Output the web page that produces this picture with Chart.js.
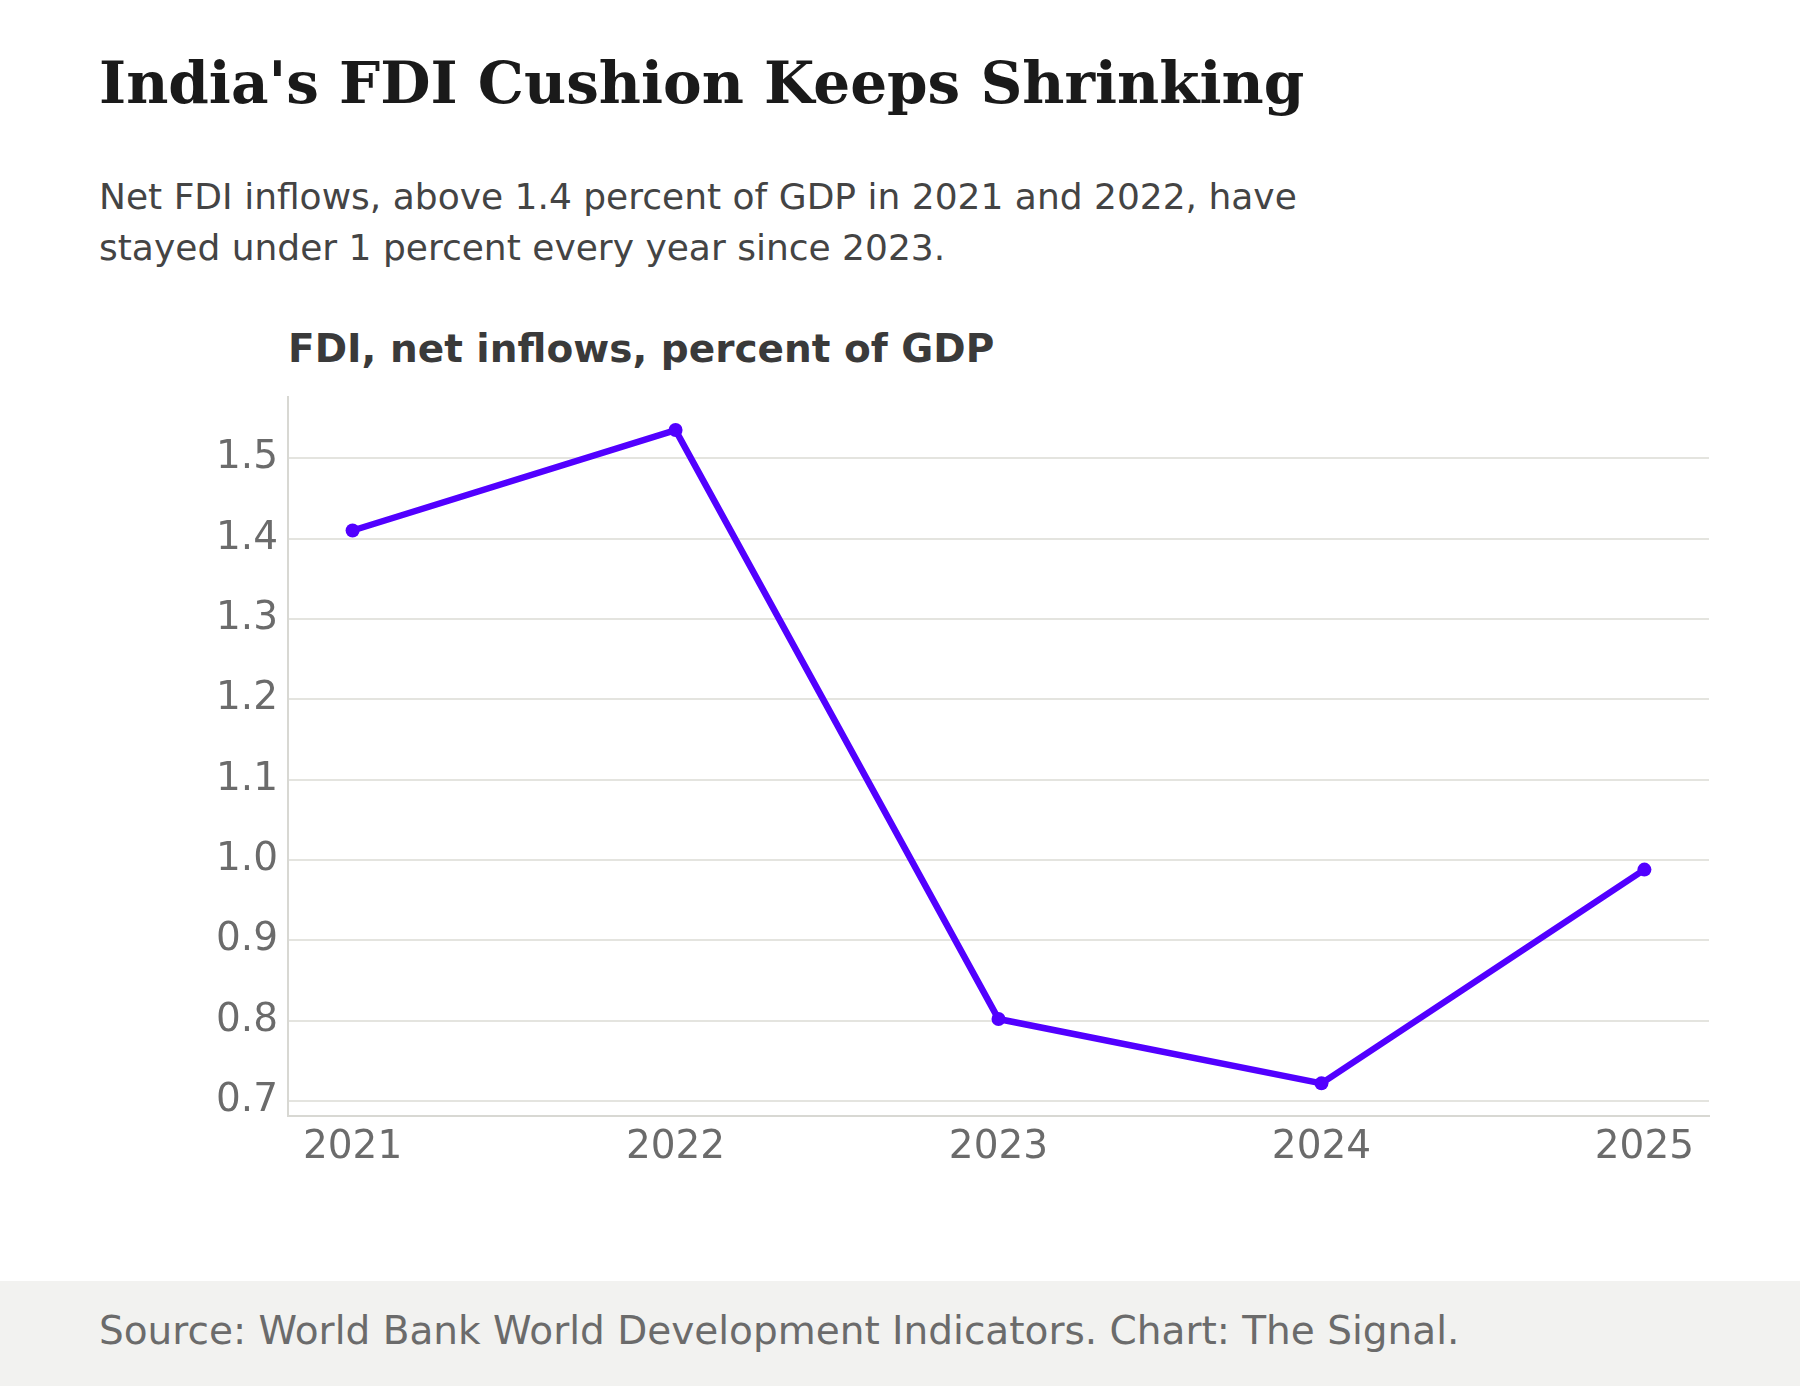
<!DOCTYPE html>
<html>
<head>
<meta charset="utf-8">
<script src="https://cdn.jsdelivr.net/npm/chart.js@4.4.1/dist/chart.umd.min.js"></script>
<style>
  html, body { margin: 0; padding: 0; background: #ffffff; }
  body { width: 1800px; height: 1386px; position: relative; overflow: hidden; font-family: "DejaVu Sans", sans-serif; }
  #title { position: absolute; left: 99px; top: 49px; font-family: "DejaVu Serif", serif; font-weight: bold; font-size: 58px; color: #1a1a1a; white-space: nowrap; }
  #subtitle { position: absolute; left: 99px; top: 171px; font-size: 36px; line-height: 51px; color: #444444; width: 1400px; }
  #chartTitle { position: absolute; left: 288px; top: 326px; font-weight: bold; font-size: 39px; color: #3a3a3a; white-space: nowrap; }
  #wrap { position: absolute; left: 0; top: 364px; width: 1800px; height: 836px; }
  #footer { position: absolute; left: 0; top: 1281px; width: 1800px; height: 105px; background: #f2f2f0; }
  #footer span { position: absolute; left: 99px; top: 27px; font-size: 39px; color: #6b6b6b; white-space: nowrap; }
</style>
</head>
<body>
<div id="title">India's FDI Cushion Keeps Shrinking</div>
<div id="subtitle">Net FDI inflows, above 1.4 percent of GDP in 2021 and 2022, have<br>stayed under 1 percent every year since 2023.</div>
<div id="chartTitle">FDI, net inflows, percent of GDP</div>
<div id="wrap"><canvas id="chart"></canvas></div>
<div id="footer"><span>Source: World Bank World Development Indicators. Chart: The Signal.</span></div>
<script>
const years = [2021, 2022, 2023, 2024, 2025];
const fdiShare = [1.41, 1.535, 0.802, 0.722, 0.988];
const yTicks = [0.7, 0.8, 0.9, 1.0, 1.1, 1.2, 1.3, 1.4, 1.5];

const lineColor = '#5200ff';
const gridColor = '#e4e4df';
const tickColor = '#6b6b6b';

// pad the value range by 5% on each side
const lo = Math.min(...fdiShare), hi = Math.max(...fdiShare);
const pad = (hi - lo) * 0.05;

const ctx = document.getElementById('chart').getContext('2d');
new Chart(ctx, {
    type: 'line',
    data: {
        datasets: [{
            data: years.map((y, i) => ({ x: y, y: fdiShare[i] })),
            borderColor: lineColor,
            backgroundColor: lineColor,
            borderWidth: 6.5,
            pointRadius: 7,
            pointBorderWidth: 0,
            tension: 0
        }]
    },
    options: {
        responsive: true,
        maintainAspectRatio: false,
        animation: false,
        layout: { padding: { top: 1, right: 91, left: 0, bottom: 0 } },
        plugins: { legend: { display: false }, tooltip: { enabled: false } },
        scales: {
            x: {
                type: 'linear',
                min: years[0] - 0.2,
                max: years[years.length - 1] + 0.2,
                afterBuildTicks: (s) => { s.ticks = years.map(v => ({ value: v })); },
                afterFit: (s) => { s.height = 84; },
                grid: { display: false, drawTicks: false },
                border: { display: true, color: '#d8d8d3', width: 2 },
                ticks: {
                    color: tickColor,
                    font: { family: 'DejaVu Sans', size: 39 },
                    padding: 8,
                    maxRotation: 0,
                    callback: (v) => String(v)
                }
            },
            y: {
                min: lo - pad,
                max: hi + pad,
                afterBuildTicks: (s) => { s.ticks = yTicks.map(v => ({ value: v })); },
                afterFit: (s) => { s.width = 288; },
                grid: { color: gridColor, lineWidth: 2, drawTicks: false },
                border: { display: true, color: '#d8d8d3', width: 2 },
                ticks: {
                    color: tickColor,
                    font: { family: 'DejaVu Sans', size: 39 },
                    padding: 10,
                    callback: (v) => Number(v).toFixed(1)
                }
            }
        }
    }
});
</script>
</body>
</html>
